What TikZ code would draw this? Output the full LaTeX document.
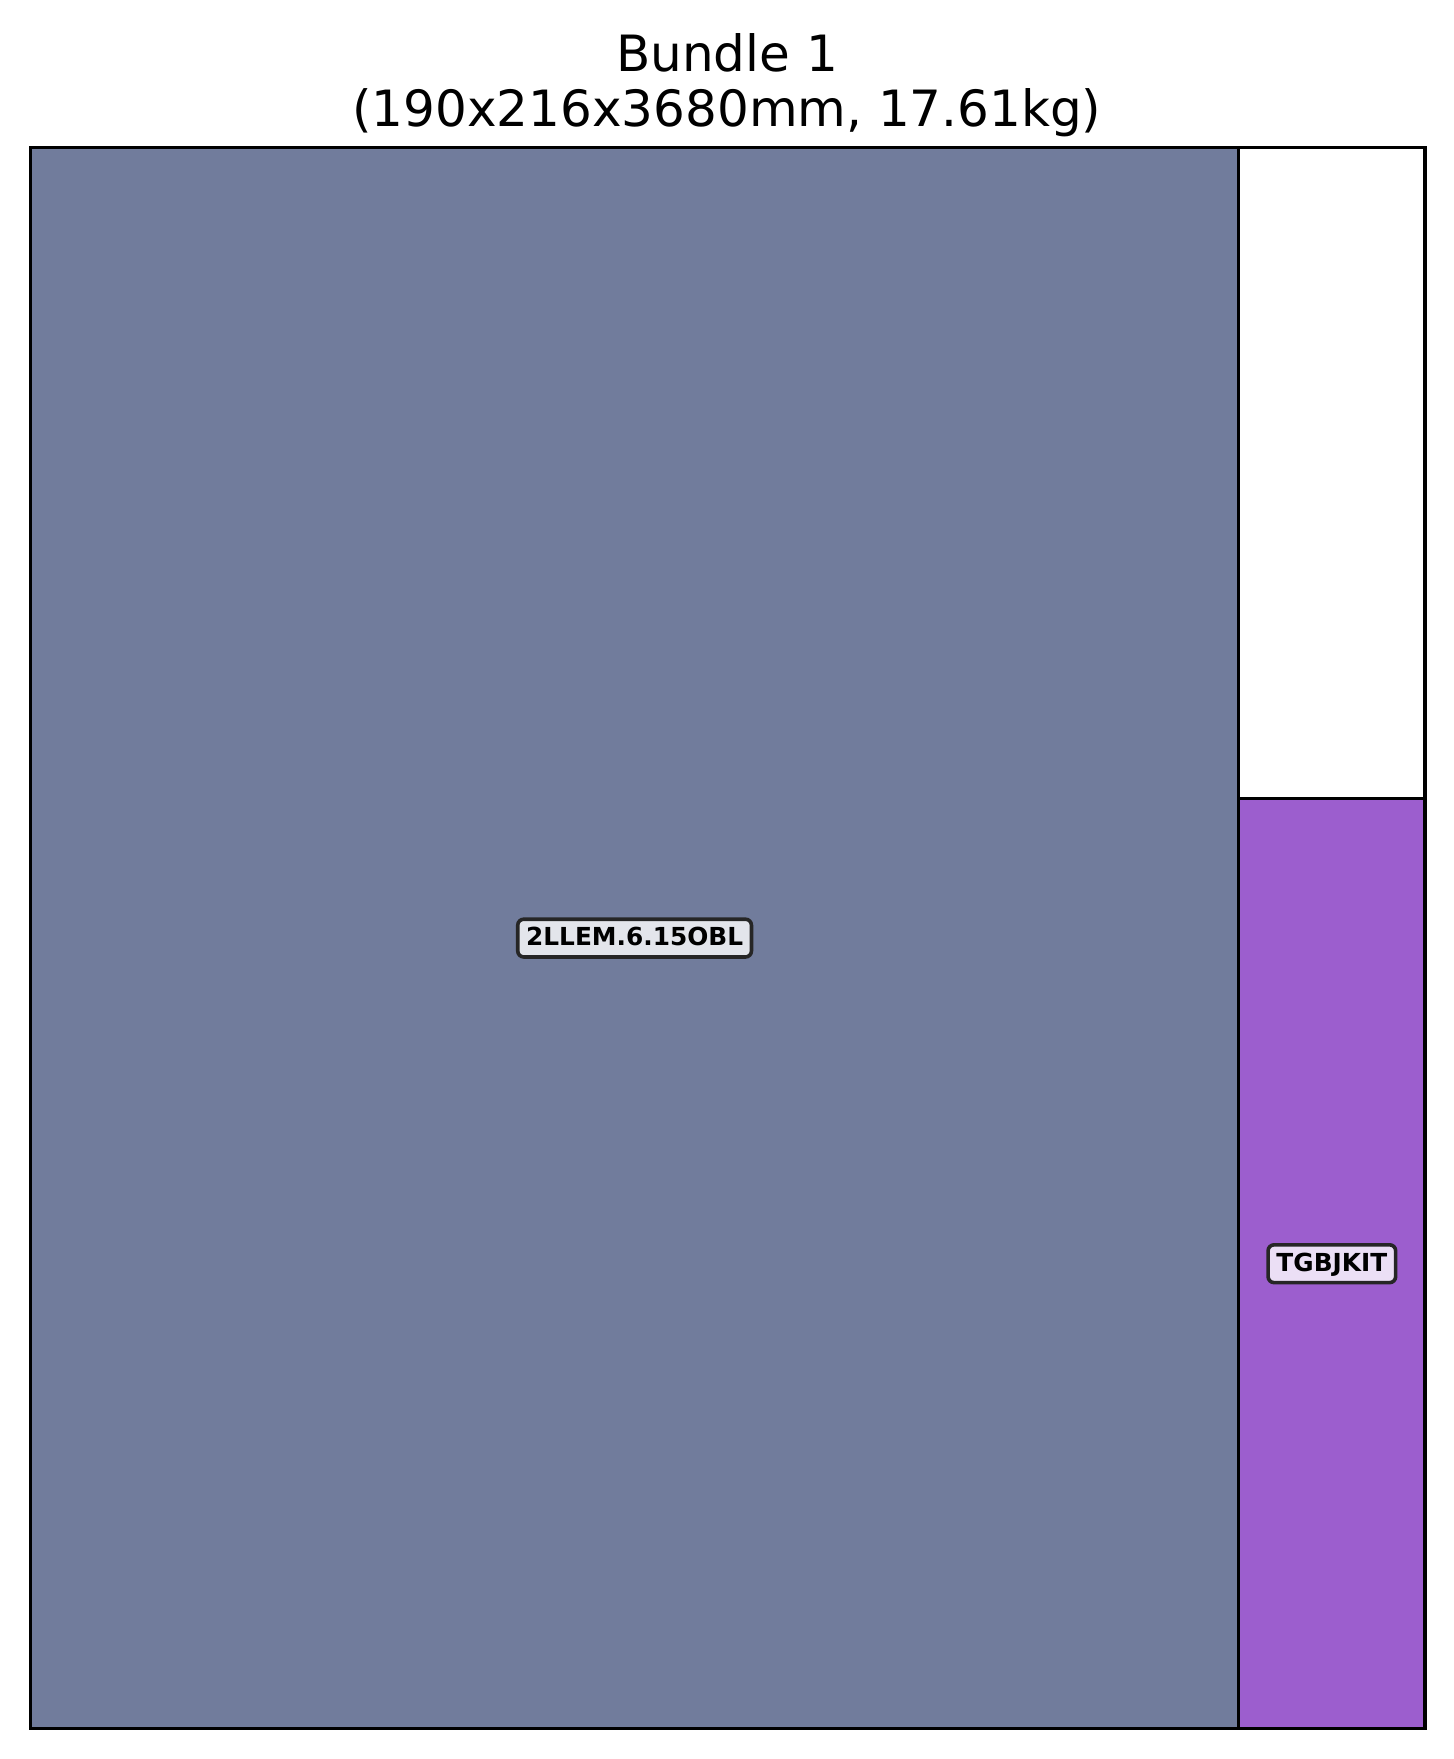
\documentclass[tikz,border=0pt]{standalone}
\usepackage{fontspec}
\setmainfont{DejaVu Sans}
\usepackage{tikz}
\usetikzlibrary{positioning}

\definecolor{itemblue}{HTML}{717C9C}
\definecolor{itempurple}{HTML}{9C5ECE}
\definecolor{tagblue}{HTML}{E3E5EB}
\definecolor{tagpurple}{HTML}{EBDFF5}

\begin{document}
\begin{tikzpicture}[
    x=0.5pt, y=-0.5pt,
    item/.style={draw=black, line width=1.75pt},
    tag/.style={draw=black!85, line width=1.8pt, rounded corners=3pt,
                font=\fontsize{12.4}{14}\selectfont\bfseries,
                inner xsep=4.2pt, inner ysep=5.8pt, text height=0.73em, text depth=0pt},
    heading/.style={font=\fontsize{25}{28}\selectfont, anchor=base, inner sep=0pt}
  ]
    \useasboundingbox (0,0) rectangle (1454,1759);

    % title
    \node[heading] (title) at (727,71.8) {Bundle 1};
    \node[heading] (info)  at (727,126.5) {(190x216x3680mm, 17.61kg)};

    % packed items
    \draw[item, fill=itemblue]   (30.5,147.5)   rectangle (1238.7,1728.7);
    \draw[item, fill=white]      (1238.7,147.5) rectangle (1425,798.7);
    \draw[item, fill=itempurple] (1238.7,798.7) rectangle (1425,1728.7);

    \node[tag, fill=tagblue]   (lem) at (634.6,938.1)  {2LLEM.6.15OBL};
    \node[tag, fill=tagpurple] (kit) at (1331.85,1263.7) {TGBJKIT};
\end{tikzpicture}
\end{document}
